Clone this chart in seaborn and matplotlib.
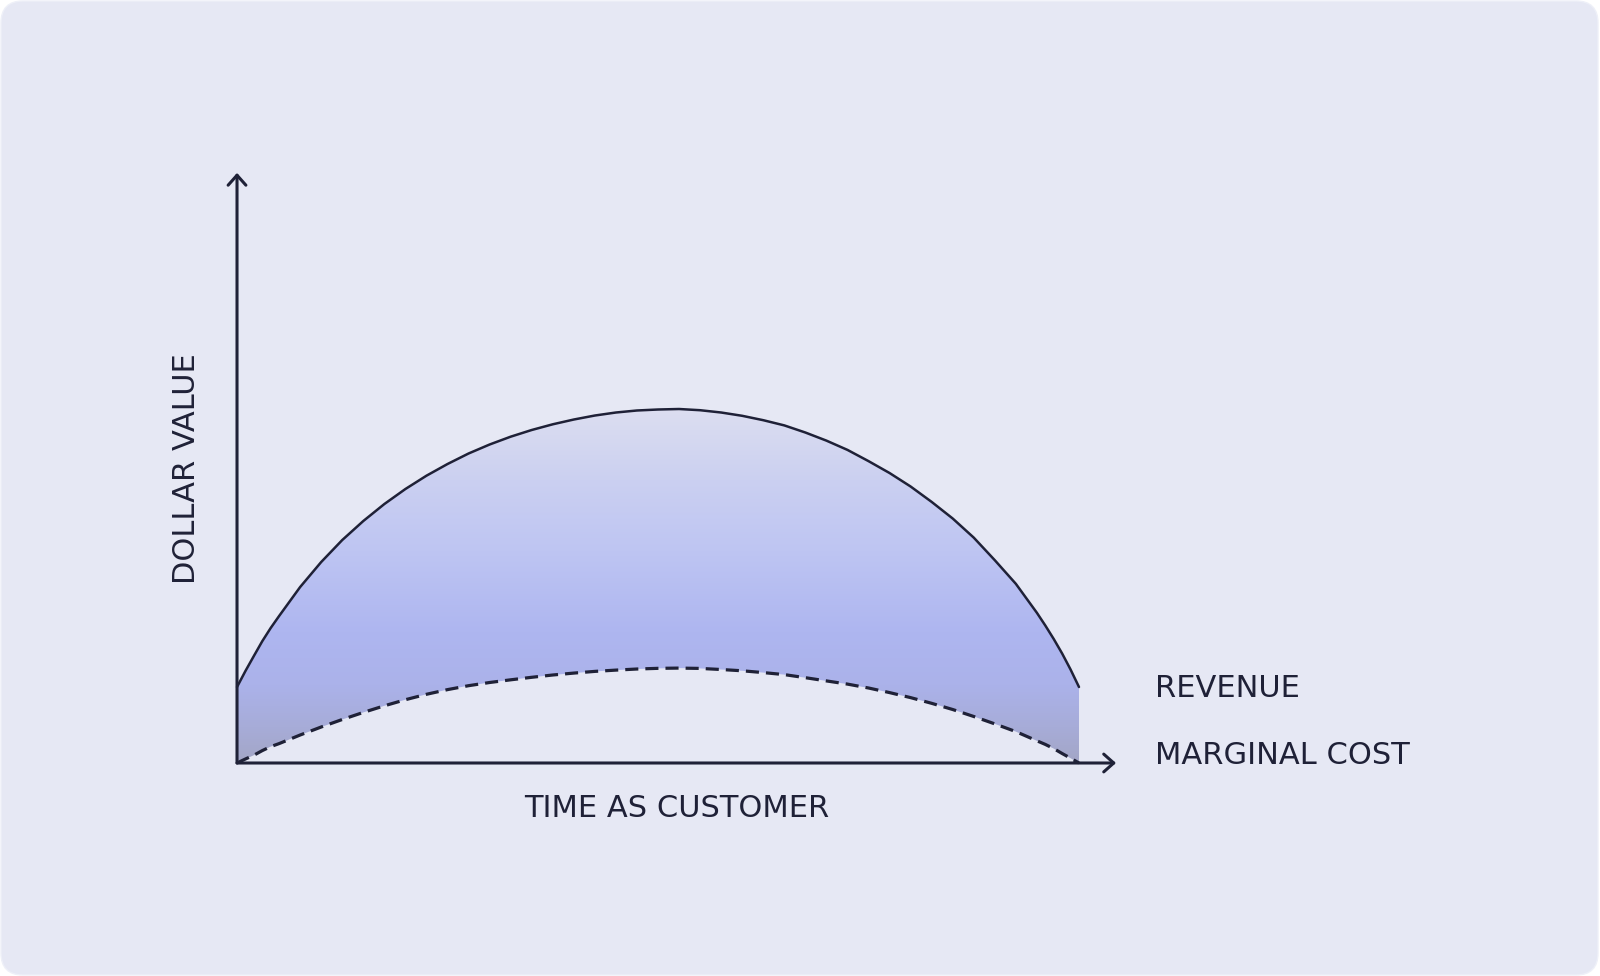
import numpy as np
import matplotlib
matplotlib.use("Agg")
import matplotlib.pyplot as plt
import seaborn as sns
from matplotlib.colors import LinearSegmentedColormap
from matplotlib.patches import FancyBboxPatch

# Data (arbitrary units)
time_as_customer = [0, 0.1, 0.2, 0.3, 0.4, 0.5, 0.75, 1.0, 1.25, 1.5, 1.75, 2.0, 2.25, 2.5,
                    2.75, 3.0, 3.25, 3.5, 3.75, 4.0, 4.25, 4.5, 4.75, 5.0, 5.25, 5.5, 5.75,
                    6.0, 6.25, 6.5, 6.75, 7.0, 7.25, 7.5, 7.75, 8.0, 8.25, 8.5, 8.75, 9.0,
                    9.25, 9.5, 9.6, 9.7, 9.8, 9.9, 10]
revenue = [2.147, 2.599, 3.023, 3.441, 3.814, 4.153, 4.972, 5.678, 6.299, 6.836, 7.316, 7.740,
           8.116, 8.446, 8.743, 8.997, 9.218, 9.407, 9.568, 9.703, 9.816, 9.901, 9.958, 9.986,
           10.0, 9.966, 9.901, 9.808, 9.684, 9.537, 9.336, 9.107, 8.845, 8.528, 8.192, 7.811,
           7.376, 6.907, 6.367, 5.729, 5.062, 4.243, 3.884, 3.503, 3.093, 2.641, 2.147]
marginal_cost = [0, 0.113, 0.22, 0.35, 0.463, 0.548, 0.791, 1.017, 1.229, 1.429, 1.616, 1.788,
                 1.941, 2.073, 2.184, 2.274, 2.350, 2.421, 2.486, 2.540, 2.588, 2.624, 2.655, 2.674,
                 2.681, 2.672, 2.641, 2.605, 2.554, 2.497, 2.410, 2.319, 2.229, 2.119, 1.989, 1.847,
                 1.686, 1.511, 1.314, 1.105, 0.887, 0.627, 0.525, 0.407, 0.268, 0.136, 0]

x_label = "TIME AS CUSTOMER"
y_label = "DOLLAR VALUE"
series_labels = ["REVENUE", "MARGINAL COST"]

# Style
INK = "#1F2137"
CARD = "#E6E8F4"
grad_stops = [(0.0, "#A3A6C6"), (0.1, "#A7ACD8"), (0.22, "#ABB2EA"), (0.37, "#AEB6F0"),
              (0.6, "#BEC5F3"), (0.8, "#CBD0F1"), (1.0, "#DCDEF0")]

sns.set_style("white")
plt.rcParams["font.family"] = ["DejaVu Sans"]

fig = plt.figure(figsize=(16, 9.76), dpi=100)
fig.patch.set_facecolor("white")
card = FancyBboxPatch((0.01, 0.01), 15.97, 9.74, boxstyle="round,pad=0,rounding_size=0.22",
                      transform=fig.dpi_scale_trans, facecolor=CARD, edgecolor="#EEF0F8", lw=1,
                      zorder=-10)
fig.patches.append(card)

ax = fig.add_axes([0, 0, 1, 1])
ax.set_facecolor("none")
ax.patch.set_alpha(0)

# gradient band between the two curves
poly = ax.fill_between(time_as_customer, marginal_cost, revenue, facecolor="none", edgecolor="none")
cmap = LinearSegmentedColormap.from_list("band", grad_stops)
grad = np.linspace(0, 1, 256).reshape(-1, 1)
im = ax.imshow(grad, cmap=cmap, origin="lower", aspect="auto",
               extent=[0, 10, 0, 10], zorder=1, interpolation="bicubic")
im.set_clip_path(poly.get_paths()[0], transform=ax.transData)

# curves
sns.lineplot(x=time_as_customer, y=revenue, ax=ax, color=INK, linewidth=1.8, zorder=3)
sns.lineplot(x=time_as_customer, y=marginal_cost, ax=ax, color=INK, linewidth=2.3, zorder=3)
ax.lines[-1].set_dashes((4.1, 2.2))
for ln in ax.lines:
    ln.set_solid_joinstyle("round")
    ln.set_dash_joinstyle("round")

# axes with arrows
arrow = dict(arrowstyle="->,head_length=0.36,head_width=0.32", lw=2.2, color=INK,
             shrinkA=0, shrinkB=0, mutation_scale=20)
ax.annotate("", xy=(10.44, 0), xytext=(0, 0), arrowprops=arrow, zorder=4)
ax.annotate("", xy=(0, 16.67), xytext=(0, 0), arrowprops=arrow, zorder=4)

# labels
fs = 22
ax.text(5.22, -1.53, x_label, ha="center", va="baseline", fontsize=fs, color=INK)
ax.text(-0.50, 8.31, y_label, ha="center", va="baseline", rotation=90,
        rotation_mode="anchor", fontsize=fs, color=INK)
ax.text(10.90, 1.86, series_labels[0], ha="left", va="baseline", fontsize=fs, color=INK)
ax.text(10.90, -0.03, series_labels[1], ha="left", va="baseline", fontsize=fs, color=INK)

ax.set_xlim(-2.815, 16.188)
ax.set_ylim(-6.017, 21.554)
ax.axis("off")

fig.savefig("out.png", dpi=100, facecolor=fig.get_facecolor())
